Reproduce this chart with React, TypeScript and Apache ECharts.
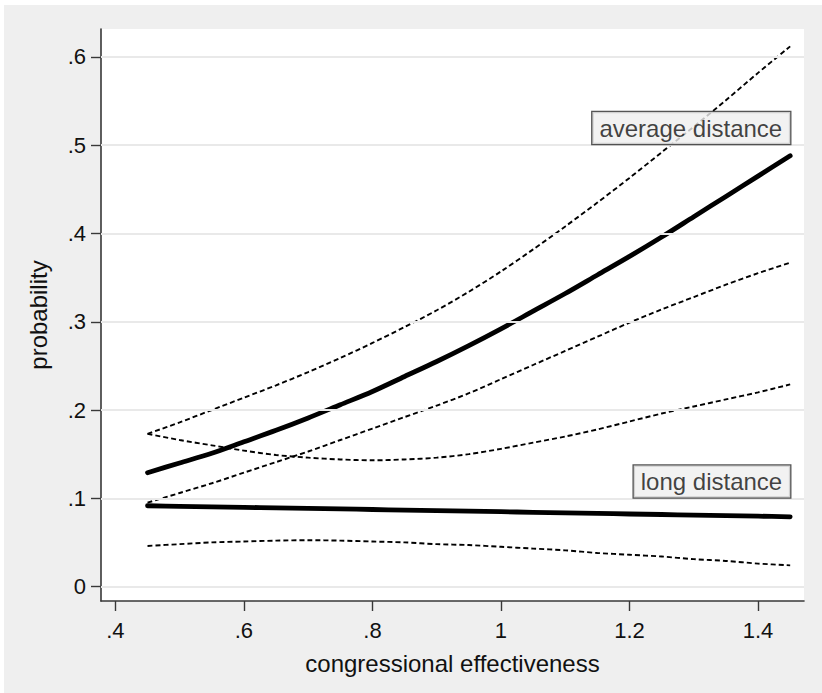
import React, { useEffect, useRef } from "react";
import * as echarts from "echarts";

// x grid of the predicted curves (congressional effectiveness)
const xs = [0.45, 0.5, 0.55, 0.6, 0.65, 0.7, 0.75, 0.8, 0.85, 0.9, 0.95, 1.0, 1.05, 1.1, 1.15, 1.2, 1.25, 1.3, 1.35, 1.4, 1.45];

// average distance: predicted probability and its confidence bounds
const avgProb = [0.129, 0.14, 0.151, 0.164, 0.177, 0.191, 0.206, 0.221, 0.238, 0.255, 0.273, 0.292, 0.312, 0.332, 0.353, 0.374, 0.396, 0.419, 0.442, 0.465, 0.488];
const avgUpper = [0.173, 0.186, 0.2, 0.214, 0.228, 0.243, 0.259, 0.276, 0.294, 0.313, 0.334, 0.357, 0.382, 0.408, 0.435, 0.463, 0.492, 0.521, 0.551, 0.582, 0.612];
const avgLower = [0.095, 0.106, 0.117, 0.129, 0.141, 0.153, 0.166, 0.179, 0.192, 0.205, 0.219, 0.235, 0.251, 0.267, 0.283, 0.299, 0.314, 0.328, 0.342, 0.355, 0.367];

// long distance: predicted probability and its confidence bounds
const longProb = [0.0915, 0.0909, 0.0903, 0.0897, 0.0891, 0.0885, 0.0879, 0.0873, 0.0866, 0.086, 0.0854, 0.0848, 0.0841, 0.0835, 0.0829, 0.0822, 0.0816, 0.0809, 0.0803, 0.0797, 0.079];
const longUpper = [0.173, 0.166, 0.16, 0.154, 0.149, 0.146, 0.144, 0.143, 0.144, 0.146, 0.15, 0.156, 0.163, 0.17, 0.178, 0.187, 0.196, 0.204, 0.212, 0.22, 0.229];
const longLower = [0.046, 0.048, 0.05, 0.051, 0.052, 0.0525, 0.052, 0.051, 0.05, 0.048, 0.047, 0.045, 0.043, 0.041, 0.038, 0.036, 0.034, 0.031, 0.029, 0.026, 0.024];

// axis ticks
const xTicks = [0.4, 0.6, 0.8, 1.0, 1.2, 1.4];
const yTicks = [0, 0.1, 0.2, 0.3, 0.4, 0.5, 0.6];

// text annotations (label text and anchor in data space: right edge, vertical middle)
const annotationTexts = ["average distance", "long distance"];
const annotationAnchors = [
  [1.45, 0.5195],
  [1.45, 0.119],
];

const fmt = (v: number) => {
  if (Math.abs(v) < 1e-9) return "0";
  const s = String(+v.toFixed(1));
  return s.replace(/^0\./, ".");
};

const FONT = "'Liberation Sans', Arial, Helvetica, sans-serif";
const TXT = "#111111";

export default function App() {
  const ref = useRef<HTMLDivElement>(null);
  useEffect(() => {
    if (!ref.current) return;
    const chart = echarts.init(ref.current, null, { renderer: "svg" });
    const zip = (arr: number[]) => xs.map((x, i) => [x, arr[i]]);
    const dashed = (name: string, arr: number[]) => ({
      name,
      type: "line",
      data: zip(arr),
      showSymbol: false,
      symbol: "none",
      smooth: 0.3,
      lineStyle: { color: "#000", width: 1.9, type: [5, 3] },
      z: 3,
    });
    const solid = (name: string, arr: number[]) => ({
      name,
      type: "line",
      data: zip(arr),
      showSymbol: false,
      symbol: "none",
      smooth: 0.3,
      lineStyle: { color: "#000", width: 4.8, cap: "round", join: "round" },
      z: 4,
    });
    const option: any = {
      animation: false,
      backgroundColor: "#ffffff",
      textStyle: { fontFamily: FONT },
      graphic: [
        {
          type: "rect",
          z: -10,
          silent: true,
          shape: { x: 4, y: 5, width: 830, height: 700 },
          style: { fill: "#efefef" },
        },
      ],
      grid: {
        left: 101,
        top: 29,
        right: 18,
        bottom: 92,
        show: true,
        backgroundColor: "#ffffff",
        borderWidth: 0,
      },
      xAxis: {
        type: "value",
        min: 0.3776,
        max: 1.4715,
        name: "congressional effectiveness",
        nameLocation: "middle",
        nameGap: 50,
        nameTextStyle: { fontSize: 24, color: TXT, fontFamily: FONT },
        axisLine: { show: true, onZero: false, lineStyle: { color: "#383838", width: 1.6 } },
        axisTick: { show: true, length: 10, customValues: xTicks, lineStyle: { color: "#383838", width: 1.4 } },
        axisLabel: {
          customValues: xTicks,
          formatter: (v: number) => fmt(v),
          fontSize: 22,
          color: TXT,
          margin: 18,
          fontFamily: FONT,
        },
        splitLine: { show: false },
      },
      yAxis: {
        type: "value",
        min: -0.0164,
        max: 0.6317,
        name: "probability",
        nameLocation: "middle",
        nameGap: 51,
        nameTextStyle: { fontSize: 24, color: TXT, fontFamily: FONT },
        axisLine: { show: true, onZero: false, lineStyle: { color: "#383838", width: 1.6 } },
        axisTick: { show: true, length: 10, customValues: yTicks, lineStyle: { color: "#383838", width: 1.4 } },
        axisLabel: {
          customValues: yTicks,
          formatter: (v: number) => fmt(v),
          fontSize: 22,
          color: TXT,
          margin: 15,
          fontFamily: FONT,
        },
        splitLine: { show: false },
      },
      series: [
        {
          name: "gridlines",
          type: "line",
          data: [],
          silent: true,
          z: 1,
          markLine: {
            silent: true,
            symbol: "none",
            label: { show: false },
            lineStyle: { color: "#e9e9e9", width: 2, type: "solid" },
            emphasis: { disabled: true },
            data: yTicks.map((v) => ({ yAxis: v })),
          },
        },
        dashed("avg upper", avgUpper),
        dashed("avg lower", avgLower),
        dashed("long upper", longUpper),
        dashed("long lower", longLower),
        solid("average distance", avgProb),
        solid("long distance", longProb),
        ...annotationTexts.map((t, i) => ({
          name: t + " label",
          type: "scatter",
          silent: true,
          symbolSize: 0,
          z: 6,
          data: [annotationAnchors[i]],
          label: {
            show: true,
            formatter: t,
            position: "left",
            distance: 0,
            fontSize: 24,
            lineHeight: 26,
            color: TXT,
            fontFamily: FONT,
            backgroundColor: "#efefef",
            borderColor: "#2a2a2a",
            borderWidth: 1.3,
            padding: [4, 8, 2, 7],
          },
        })),
      ],
    };
    chart.setOption(option);
    return () => chart.dispose();
  }, []);
  return (
    <div
      ref={ref}
      style={{ position: "fixed", left: 0, top: 0, width: 822, height: 693 }}
    />
  );
}
